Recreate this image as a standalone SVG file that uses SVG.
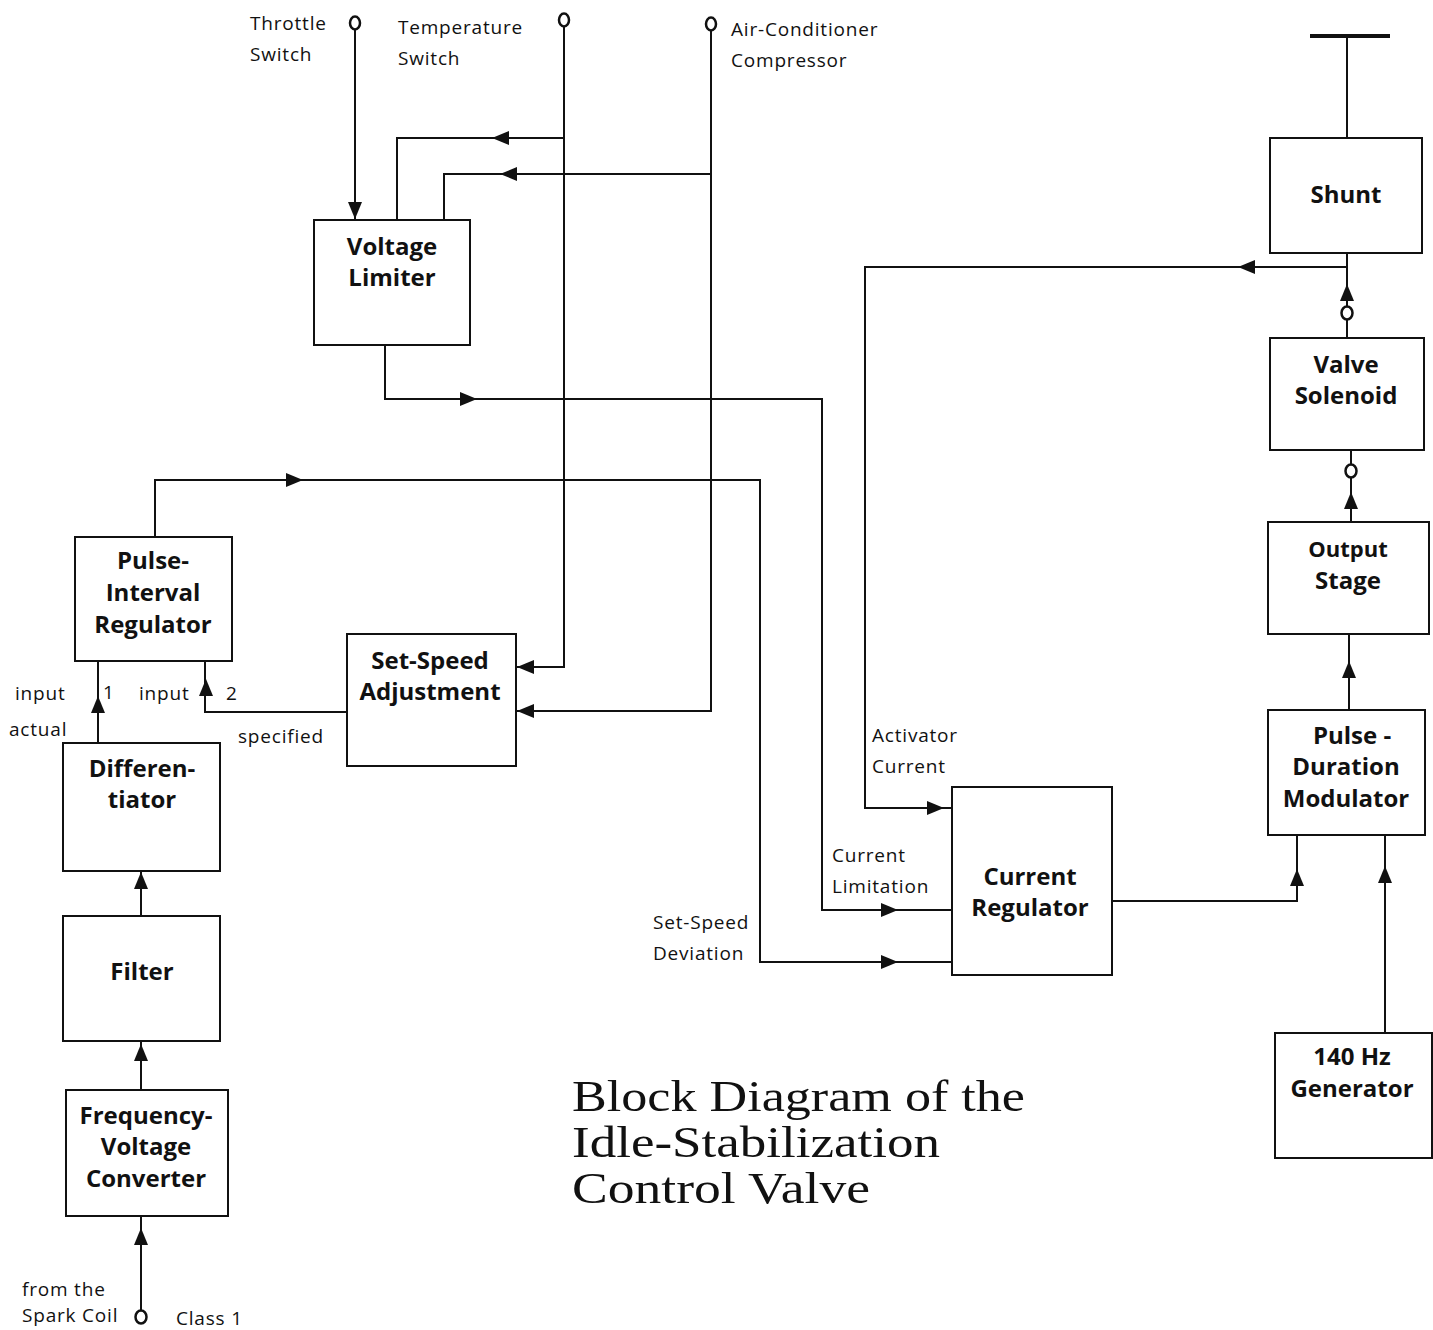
<svg xmlns="http://www.w3.org/2000/svg" xmlns:xlink="http://www.w3.org/1999/xlink" width="1433" height="1330" viewBox="0 0 1433 1330">
<style>
.box{fill:#fff;stroke:#111;stroke-width:2}
.ln{fill:none;stroke:#111;stroke-width:2}
.term{fill:#fff;stroke:#111;stroke-width:2.5}
.nt{font-family:"Open Sans","Noto Sans",sans-serif;font-weight:bold;font-size:24px;fill:#111;text-anchor:middle}
.lb{font-family:"Open Sans","Noto Sans",sans-serif;font-size:19px;letter-spacing:0.8px;fill:#111}
.tt{font-family:"Liberation Serif",serif;font-size:45px;fill:#111}
</style>
<defs>
<path id="ah" d="M0,0 L-17,-7 L-17,7 Z" fill="#111"/>
</defs>
<rect width="1433" height="1330" fill="#fff"/>

<g id="connectors">
<path class="ln" d="M355,29 V220"/>
<path class="ln" d="M564,27 V667 H517"/>
<path class="ln" d="M564,138 H397 V220"/>
<path class="ln" d="M711,31 V711 H517"/>
<path class="ln" d="M711,174 H444 V220"/>
<path class="ln" d="M385,345 V399 H822 V910 H952"/>
<path class="ln" d="M155,537 V480 H760 V962 H952"/>
<path class="ln" d="M1347,36 V138"/>
<path class="ln" d="M1310,36 H1390" style="stroke-width:4"/>
<path class="ln" d="M1347,253 V307"/>
<path class="ln" d="M1347,319 V338"/>
<path class="ln" d="M1347,267 H865 V808 H952"/>
<path class="ln" d="M1351,450 V465"/>
<path class="ln" d="M1351,477 V522"/>
<path class="ln" d="M1349,634 V710"/>
<path class="ln" d="M1112,901 H1297 V835"/>
<path class="ln" d="M1385,1033 V835"/>
<path class="ln" d="M347,712 H205 V661"/>
<path class="ln" d="M98,743 V661"/>
<path class="ln" d="M141,916 V871"/>
<path class="ln" d="M141,1090 V1041"/>
<path class="ln" d="M141,1310 V1216"/>

<use xlink:href="#ah" transform="translate(355,219) rotate(90)"/>
<use xlink:href="#ah" transform="translate(492,138) rotate(180)"/>
<use xlink:href="#ah" transform="translate(500,174) rotate(180)"/>
<use xlink:href="#ah" transform="translate(517,667) rotate(180)"/>
<use xlink:href="#ah" transform="translate(517,711) rotate(180)"/>
<use xlink:href="#ah" transform="translate(477,399)"/>
<use xlink:href="#ah" transform="translate(303,480)"/>
<use xlink:href="#ah" transform="translate(1238,267) rotate(180)"/>
<use xlink:href="#ah" transform="translate(944,808)"/>
<use xlink:href="#ah" transform="translate(898,910)"/>
<use xlink:href="#ah" transform="translate(898,962)"/>
<use xlink:href="#ah" transform="translate(1347,284) rotate(-90)"/>
<use xlink:href="#ah" transform="translate(1351,492) rotate(-90)"/>
<use xlink:href="#ah" transform="translate(1349,661) rotate(-90)"/>
<use xlink:href="#ah" transform="translate(1297,869) rotate(-90)"/>
<use xlink:href="#ah" transform="translate(1385,866) rotate(-90)"/>
<use xlink:href="#ah" transform="translate(206,679) rotate(-90)"/>
<use xlink:href="#ah" transform="translate(98,696) rotate(-90)"/>
<use xlink:href="#ah" transform="translate(141,872) rotate(-90)"/>
<use xlink:href="#ah" transform="translate(141,1044) rotate(-90)"/>
<use xlink:href="#ah" transform="translate(141,1228) rotate(-90)"/>

<ellipse class="term" cx="355" cy="23" rx="5" ry="6.5"/>
<ellipse class="term" cx="564" cy="20" rx="5" ry="6.5"/>
<ellipse class="term" cx="711" cy="24" rx="5" ry="6.5"/>
<ellipse class="term" cx="1347" cy="313" rx="5.5" ry="6.5"/>
<ellipse class="term" cx="1351" cy="471" rx="5.5" ry="6.5"/>
<ellipse class="term" cx="141" cy="1317" rx="5.5" ry="6.5"/>
</g>

<g id="labels">
<text class="lb" x="250" y="30">Throttle</text>
<text class="lb" x="250" y="61">Switch</text>
<text class="lb" x="398" y="34">Temperature</text>
<text class="lb" x="398" y="65">Switch</text>
<text class="lb" x="731" y="36">Air-Conditioner</text>
<text class="lb" x="731" y="67">Compressor</text>
<text class="lb" x="15" y="700">input</text>
<text class="lb" x="9" y="736">actual</text>
<text class="lb" x="103" y="699">1</text>
<text class="lb" x="139" y="700">input</text>
<text class="lb" x="226" y="700">2</text>
<text class="lb" x="238" y="743">specified</text>
<text class="lb" x="872" y="742">Activator</text>
<text class="lb" x="872" y="773">Current</text>
<text class="lb" x="832" y="862">Current</text>
<text class="lb" x="832" y="893">Limitation</text>
<text class="lb" x="653" y="929">Set-Speed</text>
<text class="lb" x="653" y="960">Deviation</text>
<text class="lb" x="22" y="1296">from the</text>
<text class="lb" x="22" y="1322">Spark Coil</text>
<text class="lb" x="176" y="1325">Class 1</text>
</g>

<g id="voltage-limiter">
<rect class="box" x="314" y="220" width="156" height="125"/>
<text class="nt" x="392" y="255">Voltage</text>
<text class="nt" x="392" y="286">Limiter</text>
</g>
<g id="shunt">
<rect class="box" x="1270" y="138" width="152" height="115"/>
<text class="nt" x="1346" y="203">Shunt</text>
</g>
<g id="valve-solenoid">
<rect class="box" x="1270" y="338" width="154" height="112"/>
<text class="nt" x="1346" y="373">Valve</text>
<text class="nt" x="1346" y="404">Solenoid</text>
</g>
<g id="output-stage">
<rect class="box" x="1268" y="522" width="161" height="112"/>
<text class="nt" x="1348" y="557" style="font-size:22px">Output</text>
<text class="nt" x="1348" y="589">Stage</text>
</g>
<g id="pulse-duration-modulator">
<rect class="box" x="1268" y="710" width="157" height="125"/>
<text class="nt" x="1352" y="744">Pulse -</text>
<text class="nt" x="1346" y="775">Duration</text>
<text class="nt" x="1346" y="807">Modulator</text>
</g>
<g id="generator-140hz">
<rect class="box" x="1275" y="1033" width="157" height="125"/>
<text class="nt" x="1352" y="1065">140 Hz</text>
<text class="nt" x="1352" y="1097">Generator</text>
</g>
<g id="current-regulator">
<rect class="box" x="952" y="787" width="160" height="188"/>
<text class="nt" x="1030" y="885">Current</text>
<text class="nt" x="1030" y="916">Regulator</text>
</g>
<g id="set-speed-adjustment">
<rect class="box" x="347" y="634" width="169" height="132"/>
<text class="nt" x="430" y="669">Set-Speed</text>
<text class="nt" x="430" y="700">Adjustment</text>
</g>
<g id="pulse-interval-regulator">
<rect class="box" x="75" y="537" width="157" height="124"/>
<text class="nt" x="153" y="569">Pulse-</text>
<text class="nt" x="153" y="601">Interval</text>
<text class="nt" x="153" y="633">Regulator</text>
</g>
<g id="differentiator">
<rect class="box" x="63" y="743" width="157" height="128"/>
<text class="nt" x="142" y="777">Differen-</text>
<text class="nt" x="142" y="808">tiator</text>
</g>
<g id="filter">
<rect class="box" x="63" y="916" width="157" height="125"/>
<text class="nt" x="142" y="980">Filter</text>
</g>
<g id="frequency-voltage-converter">
<rect class="box" x="66" y="1090" width="162" height="126"/>
<text class="nt" x="146" y="1124">Frequency-</text>
<text class="nt" x="146" y="1155">Voltage</text>
<text class="nt" x="146" y="1187">Converter</text>
</g>

<g id="title">
<text class="tt" x="572" y="1111" textLength="453" lengthAdjust="spacingAndGlyphs">Block Diagram of the</text>
<text class="tt" x="572" y="1157" textLength="368" lengthAdjust="spacingAndGlyphs">Idle-Stabilization</text>
<text class="tt" x="572" y="1203" textLength="298" lengthAdjust="spacingAndGlyphs">Control Valve</text>
</g>
</svg>
